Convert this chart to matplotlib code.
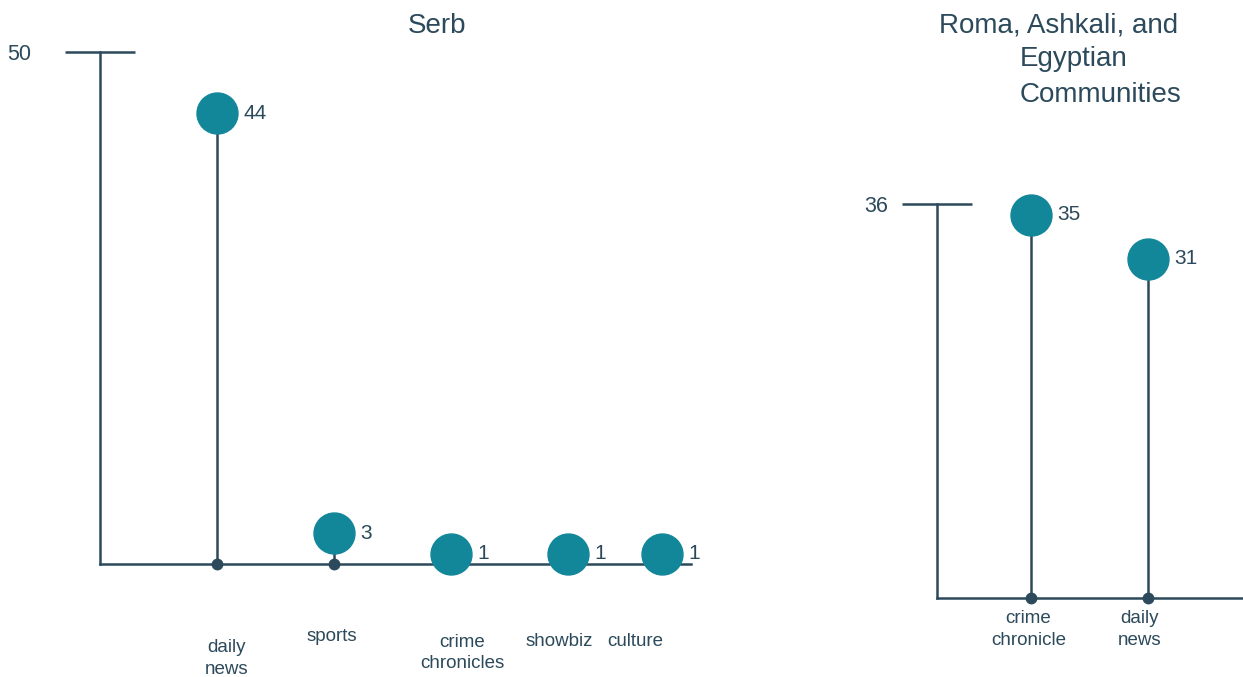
import matplotlib.pyplot as plt

plt.rcParams['font.family'] = ['Liberation Sans', 'DejaVu Sans']

INK = '#2c4a5b'
TEAL = '#13879a'

# Serb panel
serb_labels = ['daily\nnews', 'sports', 'crime\nchronicles', 'showbiz', 'culture']
serb_values = [44, 3, 1, 1, 1]
serb_ymax = 50

# Roma, Ashkali, and Egyptian Communities panel
rae_labels = ['crime\nchronicle', 'daily\nnews']
rae_values = [35, 31]
rae_ymax = 36

W, H = 1243, 677
fig = plt.figure(figsize=(W / 100, H / 100), dpi=100, facecolor='white')


def px_axes(x0, y0, x1, y1):
    return fig.add_axes([x0 / W, 1 - y1 / H, (x1 - x0) / W, (y1 - y0) / H])


def lollipop(ax, pos, labels, values, ymax, xlim, label_offsets, tick_pad):
    ax.set_xlim(*xlim)
    ax.set_ylim(0, ymax)
    for s in ['top', 'right']:
        ax.spines[s].set_visible(False)
    for s in ['left', 'bottom']:
        ax.spines[s].set_color(INK)
        ax.spines[s].set_linewidth(1.8)
    ax.set_yticks([ymax])
    ax.tick_params(axis='y', direction='inout', length=51, width=1.8, color=INK,
                   labelsize=15.5, labelcolor=INK, pad=tick_pad)
    ax.set_xticks([])

    ax.vlines(pos, 0, values, color=INK, lw=1.8, zorder=2)
    ax.plot(pos, [0] * len(pos), 'o', color=INK, ms=7.5, zorder=3, clip_on=False)
    ax.plot(pos, values, 'o', color=TEAL, ms=29.5, zorder=4, clip_on=False)

    for x, v, lab, (dx, dy) in zip(pos, values, labels, label_offsets):
        ax.annotate(str(v), (x, v), xytext=(19, 0), textcoords='offset points',
                    ha='left', va='center', fontsize=15, color=INK)
        ax.annotate(lab, (x, 0), xytext=(dx, dy), textcoords='offset points',
                    ha='center', va='center', fontsize=13.5, color=INK,
                    linespacing=1.35, annotation_clip=False)


ax1 = px_axes(100, 52, 691, 564)
lollipop(ax1, [1, 2, 3, 4, 4.8], serb_labels, serb_values, serb_ymax, (0, 5.05),
         [(7, -68), (-1.5, -52), (8, -64), (-6.5, -56), (-19, -56)], 24)

ax2 = px_axes(937, 204, W, 598)
lollipop(ax2, [1, 2], rae_labels, rae_values, rae_ymax, (0.197, 2.81),
         [(-2, -22.5), (-6, -22.5)], 10)

fig.text(437 / W, 1 - 26 / H, 'Serb', ha='center', va='center', fontsize=20, color=INK)
fig.text(1059 / W, 1 - 26 / H, 'Roma, Ashkali, and', ha='center', va='center',
         fontsize=20, color=INK)
fig.text(1020 / W, 1 - 77 / H, 'Egyptian\nCommunities', ha='left', va='center',
         fontsize=20, color=INK, linespacing=1.45)

fig.savefig('out.png', dpi=100, facecolor='white')
